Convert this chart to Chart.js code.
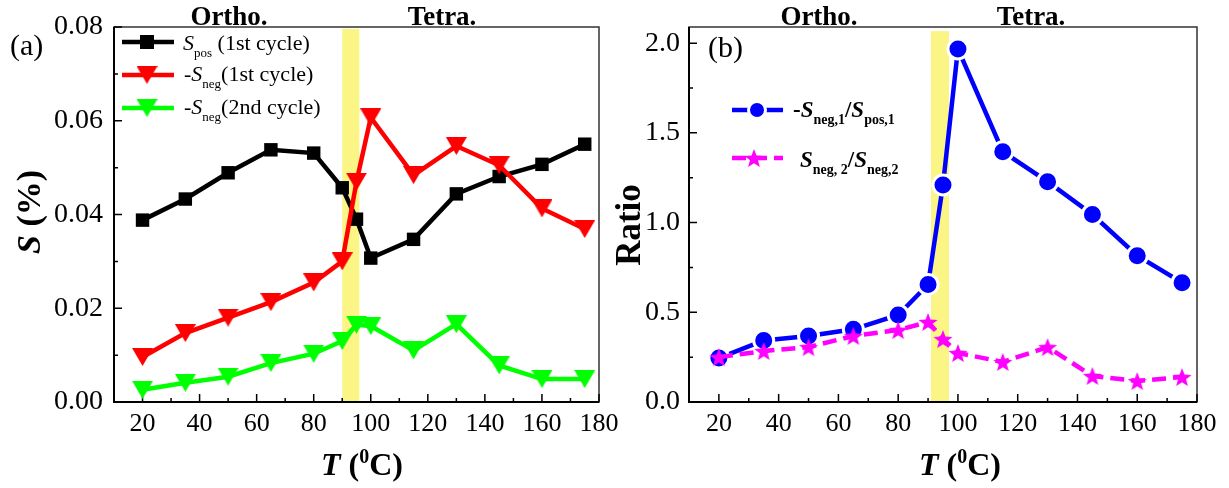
<!DOCTYPE html>
<html>
<head>
<meta charset="utf-8">
<script src="https://cdn.jsdelivr.net/npm/chart.js@4.4.1/dist/chart.umd.min.js"></script>
<style>
  html, body { margin: 0; padding: 0; background: #fff; }
  #wrap { position: relative; width: 1229px; height: 488px; overflow: hidden; }
  canvas { position: absolute; top: 0; }
  #ca { left: 0; }
  #cb { left: 614px; }
</style>
</head>
<body>
<div id="wrap">
  <canvas id="ca" width="660" height="488"></canvas>
  <canvas id="cb" width="615" height="488"></canvas>
</div>
<script>
// temperatures (°C)
const temps = [20, 35, 50, 65, 80, 90, 95, 100, 115, 130, 145, 160, 175];
// panel (a): strain S (%)
const sPos1 = [0.0388, 0.0433, 0.0489, 0.0538, 0.0531, 0.0457, 0.0390, 0.0307, 0.0347, 0.0444, 0.0481, 0.0507, 0.0550];
const sNeg1 = [0.0096, 0.0147, 0.0180, 0.0213, 0.0255, 0.0300, 0.0470, 0.0607, 0.0484, 0.0546, 0.0505, 0.0413, 0.0369];
const sNeg2 = [0.0026, 0.0041, 0.0054, 0.0083, 0.0103, 0.0130, 0.0165, 0.0162, 0.0110, 0.0166, 0.0078, 0.0049, 0.0049];
// panel (b): ratios
const ratio1 = [0.245, 0.343, 0.368, 0.405, 0.485, 0.655, 1.210, 1.968, 1.395, 1.228, 1.045, 0.815, 0.665];
const ratio2 = [0.250, 0.284, 0.306, 0.368, 0.401, 0.446, 0.351, 0.273, 0.223, 0.306, 0.145, 0.117, 0.139];

const xTicks = [20, 40, 60, 80, 100, 120, 140, 160, 180];
const yTicksA = [0, 0.02, 0.04, 0.06, 0.08];
const yTicksB = [0, 0.5, 1.0, 1.5, 2.0];
const phases = ['Ortho.', 'Tetra.'];
// transition band (°C)
const bandA = [90, 96];
const bandB = [91, 97];

const F = "'Liberation Serif', 'Times New Roman', serif";

function pts(vals) {
  return temps.map((t, i) => ({ x: t, y: vals[i] }));
}

// down-pointing triangle, centred on its bounding box
function triImg(w, h, color) {
  const c = document.createElement('canvas');
  c.width = w; c.height = h;
  const g = c.getContext('2d');
  g.fillStyle = color;
  g.beginPath();
  g.moveTo(0, 0); g.lineTo(w, 0); g.lineTo(w / 2, h);
  g.closePath(); g.fill();
  return c;
}

function starImg(r, color) {
  const s = Math.ceil(r * 2 + 2);
  const c = document.createElement('canvas');
  c.width = s; c.height = s;
  const g = c.getContext('2d');
  g.fillStyle = color;
  g.beginPath();
  for (let i = 0; i < 10; i++) {
    const rr = i % 2 ? r * 0.42 : r;
    const a = -Math.PI / 2 + i * Math.PI / 5;
    g.lineTo(s / 2 + rr * Math.cos(a), s / 2 + 1 + rr * Math.sin(a));
  }
  g.closePath(); g.fill();
  return c;
}

const triRed = triImg(21, 18, '#ff0000');
const triGreen = triImg(21, 18, '#00ff00');
const starPink = starImg(10, '#ff00ff');

function richWidth(ctx, parts) {
  let w = 0;
  for (const p of parts) { ctx.font = p.f; w += ctx.measureText(p.t).width; }
  return w;
}

function rich(ctx, x, y, parts) {
  for (const p of parts) {
    ctx.font = p.f;
    ctx.fillText(p.t, x, y + (p.dy || 0));
    x += ctx.measureText(p.t).width;
  }
  return x;
}

function drawMarker(ctx, m, x, y) {
  if (m.img) {
    ctx.drawImage(m.img, x - m.img.width / 2, y - m.img.height / 2);
    return;
  }
  ctx.fillStyle = m.color;
  if (m.type === 'rect') {
    ctx.fillRect(x - m.s / 2, y - m.s / 2, m.s, m.s);
  } else {
    ctx.beginPath();
    ctx.arc(x, y, m.r, 0, Math.PI * 2);
    ctx.fill();
    ctx.lineWidth = 3;
    ctx.strokeStyle = '#fff';
    ctx.stroke();
  }
}

function decor(cfg) {
  return {
    id: 'decor',
    beforeDatasetsDraw(chart) {
      const { ctx, chartArea: a } = chart;
      const xs = chart.scales.x, ys = chart.scales.y;
      ctx.save();
      // yellow transition band
      const x1 = xs.getPixelForValue(cfg.band[0]);
      const x2 = xs.getPixelForValue(cfg.band[1]);
      const yt = ys.getPixelForValue(cfg.bandTop);
      ctx.fillStyle = '#faf584';
      ctx.fillRect(x1, yt, x2 - x1, a.bottom - yt);

      // frame
      ctx.strokeStyle = '#333';
      ctx.lineWidth = 1.5;
      ctx.strokeRect(a.left, a.top, a.right - a.left, a.bottom - a.top);
      ctx.strokeStyle = '#000';
      ctx.lineWidth = 2;
      ctx.beginPath();
      ctx.moveTo(a.left, a.top); ctx.lineTo(a.left, a.bottom); ctx.lineTo(a.right, a.bottom);
      ctx.stroke();

      // inward ticks
      ctx.lineWidth = 1.5;
      ctx.beginPath();
      xTicks.forEach((v, i) => {
        const p = xs.getPixelForValue(v);
        ctx.moveTo(p, a.bottom); ctx.lineTo(p, a.bottom - 8);
        if (i > 0) {
          const q = xs.getPixelForValue((v + xTicks[i - 1]) / 2);
          ctx.moveTo(q, a.bottom); ctx.lineTo(q, a.bottom - 4);
        }
      });
      cfg.yTicks.forEach((v, i) => {
        const p = ys.getPixelForValue(v);
        ctx.moveTo(a.left, p); ctx.lineTo(a.left + 8, p);
        if (i > 0) {
          const q = ys.getPixelForValue((v + cfg.yTicks[i - 1]) / 2);
          ctx.moveTo(a.left, q); ctx.lineTo(a.left + 4, q);
        }
      });
      ctx.stroke();
      ctx.restore();
    },
    afterDraw(chart) {
      const ctx = chart.ctx;
      ctx.save();
      ctx.fillStyle = '#000';
      ctx.textBaseline = 'alphabetic';

      // phase labels above the frame
      ctx.font = `bold 27px ${F}`;
      ctx.textAlign = 'center';
      phases.forEach((t, i) => ctx.fillText(t, cfg.phaseX[i], 25));

      ctx.textAlign = 'left';
      // panel tag
      ctx.font = `30px ${F}`;
      ctx.fillText(cfg.tag, cfg.tagPos[0], cfg.tagPos[1]);

      // x title
      const xw = richWidth(ctx, cfg.xTitle);
      rich(ctx, cfg.xTitlePos[0] - xw / 2, cfg.xTitlePos[1], cfg.xTitle);

      // y title (rotated)
      ctx.save();
      ctx.translate(cfg.yTitlePos[0], cfg.yTitlePos[1]);
      ctx.rotate(-Math.PI / 2);
      const yw = richWidth(ctx, cfg.yTitle);
      rich(ctx, -yw / 2, 12, cfg.yTitle);
      ctx.restore();

      // legend
      cfg.legend.forEach(e => {
        ctx.save();
        ctx.strokeStyle = e.color;
        ctx.lineWidth = 4.5;
        ctx.setLineDash(e.dash || []);
        ctx.beginPath();
        ctx.moveTo(cfg.legLine[0], e.y); ctx.lineTo(cfg.legLine[1], e.y);
        ctx.stroke();
        ctx.setLineDash([]);
        drawMarker(ctx, e.marker, e.mx, e.y);
        ctx.restore();
        ctx.fillStyle = '#000';
        rich(ctx, e.tx, e.ty, e.parts);
      });
      ctx.restore();
    }
  };
}

function makeChart(id, datasets, c) {
  return new Chart(document.getElementById(id), {
    type: 'line',
    data: { datasets: datasets },
    options: {
      responsive: false,
      animation: false,
      events: [],
      layout: { padding: c.padding },
      plugins: { legend: { display: false }, tooltip: { enabled: false } },
      scales: {
        x: {
          type: 'linear', min: 10, max: 180,
          afterBuildTicks: s => { s.ticks = xTicks.map(v => ({ value: v })); },
          afterFit: s => { s.height = 86; s.paddingLeft = 0; s.paddingRight = 0; },
          grid: { display: false, drawTicks: false },
          border: { display: false },
          ticks: { color: '#000', font: { family: F, size: 26 }, padding: 7, maxRotation: 0, autoSkip: false, callback: v => String(v) }
        },
        y: {
          type: 'linear', min: c.yMin, max: c.yMax,
          afterBuildTicks: s => { s.ticks = c.yTicks.map(v => ({ value: v })); },
          afterFit: s => { s.width = c.yWidth; s.paddingTop = 0; s.paddingBottom = 0; },
          grid: { display: false, drawTicks: false },
          border: { display: false },
          ticks: { color: '#000', font: { family: F, size: 28 }, padding: c.yPad, autoSkip: false, callback: v => v.toFixed(c.digits) }
        }
      }
    },
    plugins: [decor(c)]
  });
}

const sub13 = `13px ${F}`;
const it22 = `italic 22px ${F}`;
const rm22 = `22px ${F}`;

makeChart('ca', [
  { data: pts(sNeg2), borderColor: '#00ff00', borderWidth: 4.5, pointStyle: triGreen, pointRadius: 10, tension: 0, order: 1 },
  { data: pts(sNeg1), borderColor: '#ff0000', borderWidth: 4.5, pointStyle: triRed, pointRadius: 10, tension: 0, order: 2 },
  { data: pts(sPos1), borderColor: '#000', borderWidth: 4.5, pointStyle: 'rect', pointRadius: 9.5,
    pointBackgroundColor: '#000', pointBorderWidth: 0, tension: 0, order: 3 }
], {
  padding: { left: 0, right: 61, top: 27, bottom: 0 },
  yWidth: 114, yPad: 11, yMin: 0, yMax: 0.08, yTicks: yTicksA, digits: 2,
  band: bandA, bandTop: 0.0796,
  phaseX: [229, 442],
  tag: '(a)', tagPos: [10, 55],
  xTitle: [
    { t: 'T', f: `bold italic 32px ${F}` }, { t: ' (', f: `bold 32px ${F}` },
    { t: '0', f: `bold 20px ${F}`, dy: -12 }, { t: 'C)', f: `bold 32px ${F}` }
  ],
  xTitlePos: [362, 475],
  yTitle: [{ t: 'S', f: `bold italic 34px ${F}` }, { t: ' (%)', f: `bold 34px ${F}` }],
  yTitlePos: [28, 212],
  legLine: [122, 174],
  legend: [
    { color: '#000', marker: { type: 'rect', color: '#000', s: 14 }, mx: 147, y: 42, tx: 183, ty: 50,
      parts: [{ t: 'S', f: it22 }, { t: 'pos', f: sub13, dy: 7 }, { t: ' (1st cycle)', f: rm22 }] },
    { color: '#ff0000', marker: { img: triRed }, mx: 147, y: 75, tx: 184, ty: 81,
      parts: [{ t: '-', f: rm22 }, { t: 'S', f: it22 }, { t: 'neg', f: sub13, dy: 7 }, { t: '(1st cycle)', f: rm22 }] },
    { color: '#00ff00', marker: { img: triGreen }, mx: 147, y: 108, tx: 184, ty: 114,
      parts: [{ t: '-', f: rm22 }, { t: 'S', f: it22 }, { t: 'neg', f: sub13, dy: 7 }, { t: '(2nd cycle)', f: rm22 }] }
  ]
});

const bS = `bold italic 23px ${F}`;
const bR = `bold 23px ${F}`;
const bSub = `bold 14px ${F}`;

makeChart('cb', [
  { data: pts(ratio2), borderColor: '#ff00ff', borderWidth: 4.5, borderDash: [14, 7], pointStyle: starPink, pointRadius: 10, tension: 0, order: 1 },
  { data: pts(ratio1), borderColor: '#0000ff', borderWidth: 4.5, pointStyle: 'circle', pointRadius: 10,
    pointBackgroundColor: '#0000ff', pointBorderColor: '#fff', pointBorderWidth: 3, tension: 0, order: 2 }
], {
  padding: { left: 0, right: 32, top: 27, bottom: 0 },
  yWidth: 75, yPad: 9, yMin: 0, yMax: 2.09, yTicks: yTicksB, digits: 1,
  band: bandB, bandTop: 2.067,
  phaseX: [205, 417],
  tag: '(b)', tagPos: [94, 57],
  xTitle: [
    { t: 'T', f: `bold italic 32px ${F}` }, { t: ' (', f: `bold 32px ${F}` },
    { t: '0', f: `bold 20px ${F}`, dy: -12 }, { t: 'C)', f: `bold 32px ${F}` }
  ],
  xTitlePos: [346, 475],
  yTitle: [{ t: 'Ratio', f: `bold 35px ${F}` }],
  yTitlePos: [14, 225],
  legLine: [118, 169],
  legend: [
    { color: '#0000ff', marker: { type: 'circle', color: '#0000ff', r: 8.5 }, mx: 143, y: 110, tx: 179, ty: 117,
      parts: [{ t: '-', f: bR }, { t: 'S', f: bS }, { t: 'neg,1', f: bSub, dy: 7 }, { t: '/', f: bR }, { t: 'S', f: bS }, { t: 'pos,1', f: bSub, dy: 7 }] },
    { color: '#ff00ff', dash: [14, 7], marker: { img: starPink }, mx: 140, y: 158, tx: 186, ty: 167,
      parts: [{ t: 'S', f: bS }, { t: 'neg, 2', f: bSub, dy: 7 }, { t: '/', f: bR }, { t: 'S', f: bS }, { t: 'neg,2', f: bSub, dy: 7 }] }
  ]
});
</script>
</body>
</html>
